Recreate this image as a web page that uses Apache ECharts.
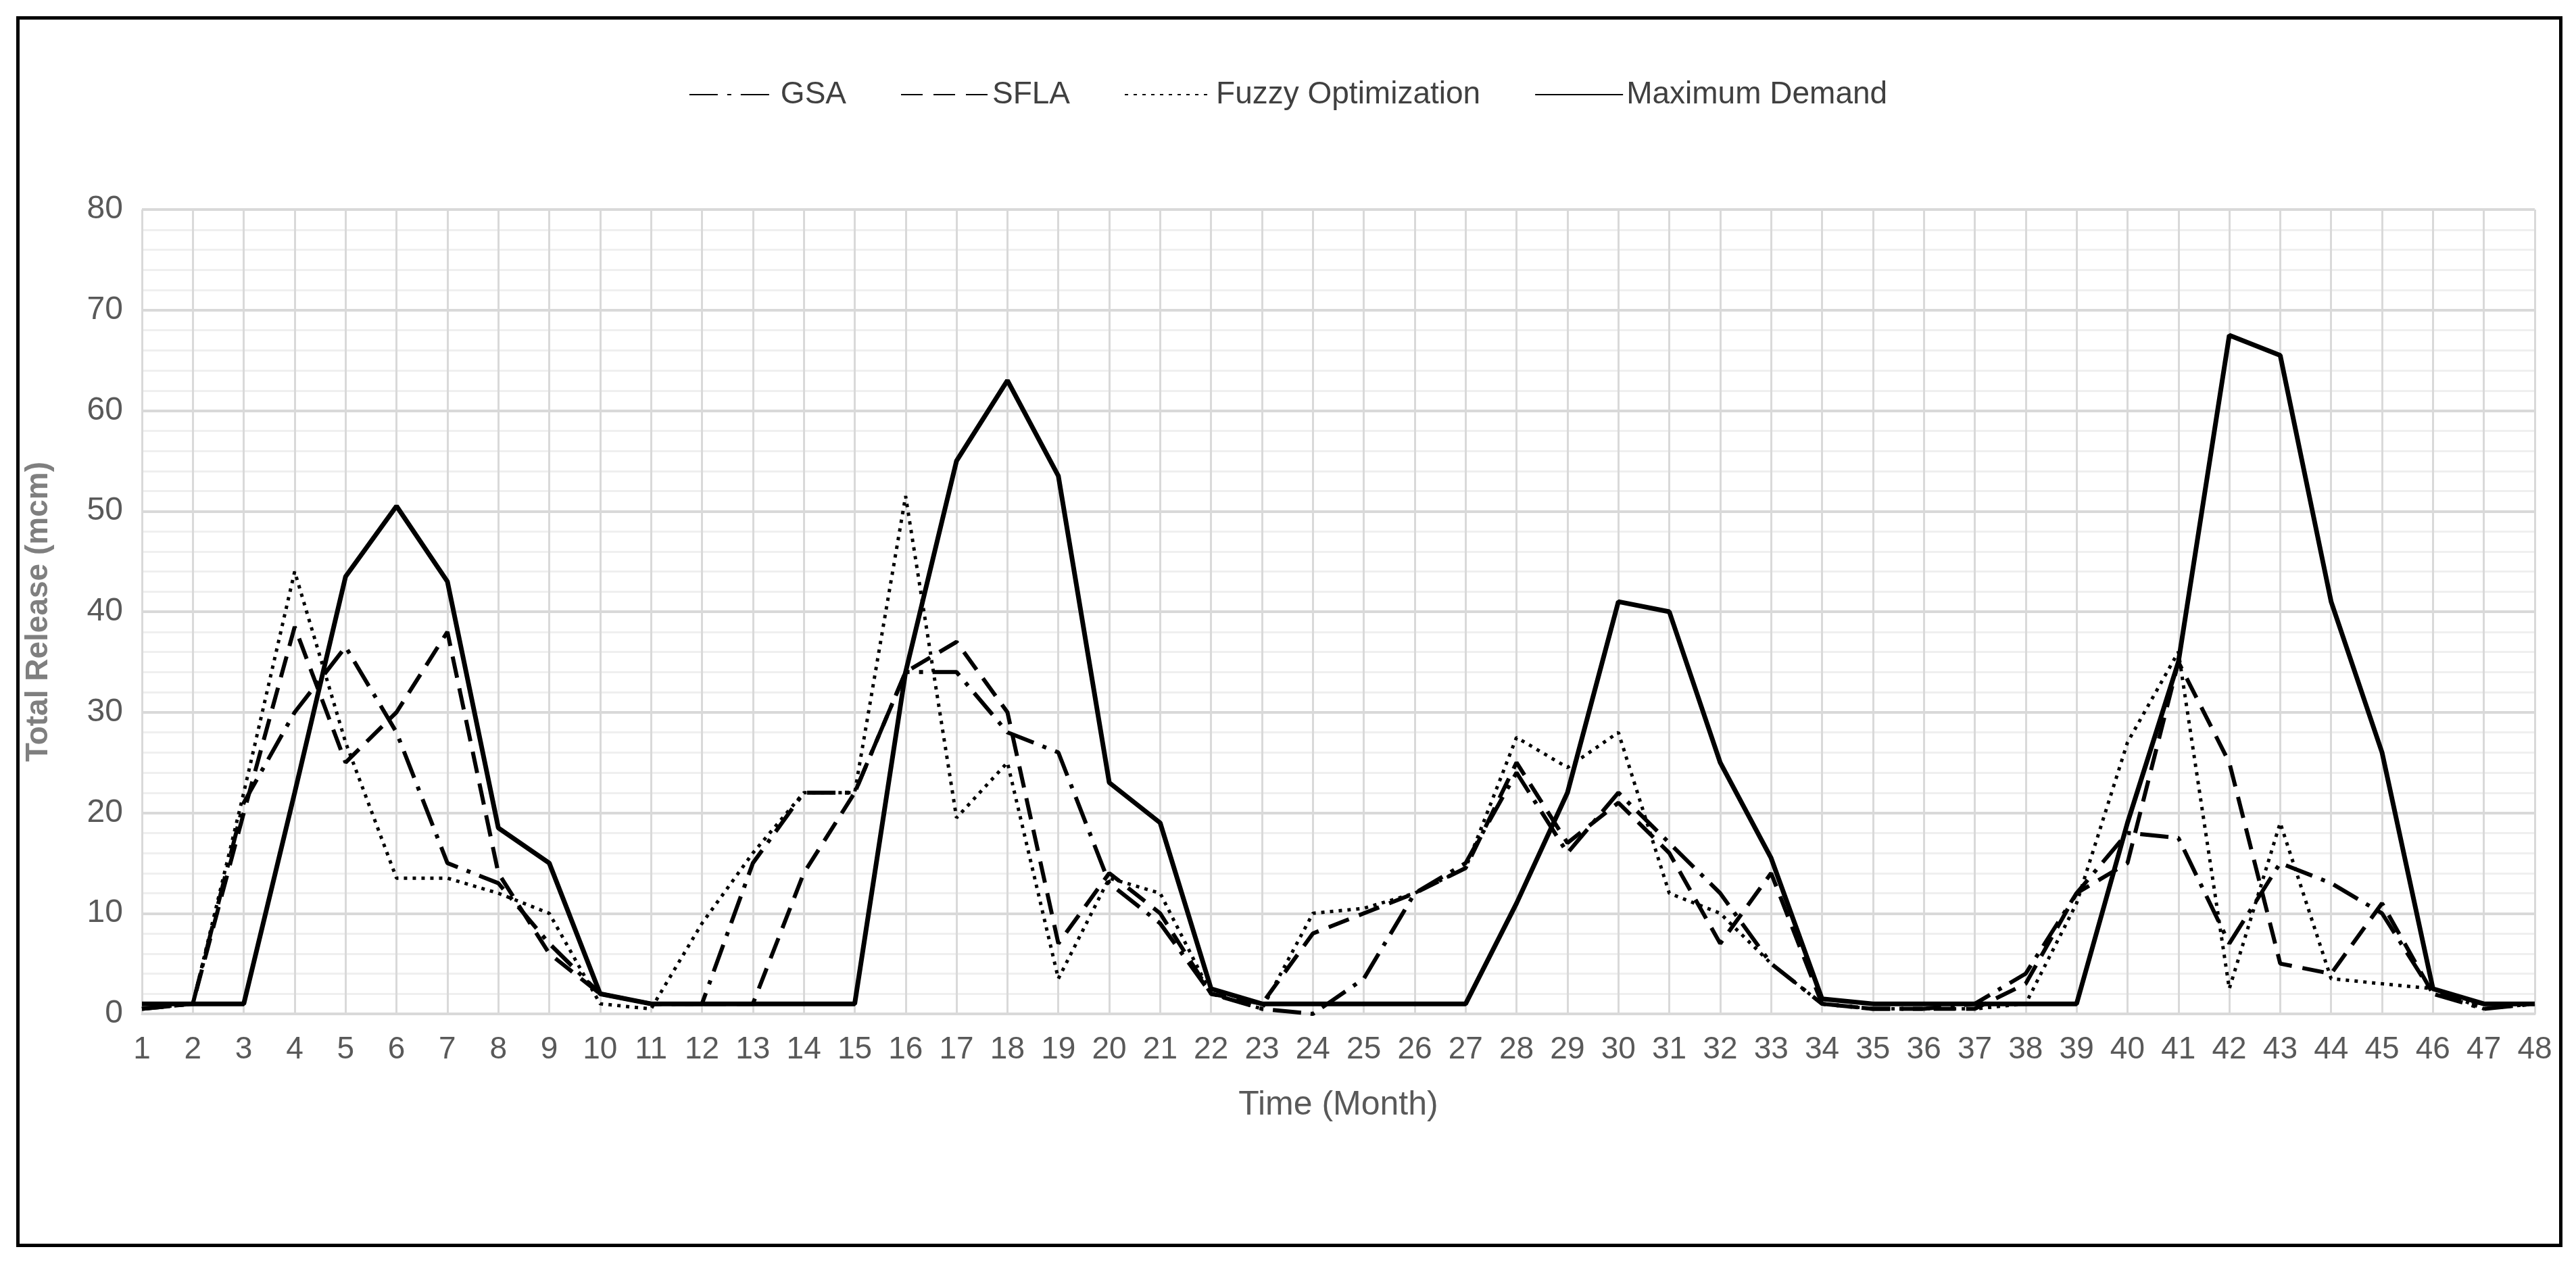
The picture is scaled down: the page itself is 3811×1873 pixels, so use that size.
<!DOCTYPE html>
<html>
<head>
<meta charset="utf-8">
<script src="https://cdn.jsdelivr.net/npm/echarts@6/dist/echarts.min.js"></script>
<style>
html,body{margin:0;padding:0;background:#fff;}
#frame{position:absolute;left:24px;top:24px;width:3757px;height:1811px;border:5px solid #000;}
#chart{width:3811px;height:1873px;}
</style>
</head>
<body>
<div id="frame"></div>
<div id="chart"></div>
<script>
var months = [];
for (var i = 1; i <= 48; i++) months.push(String(i));

var gsa = [0.5,1,21,30,36.5,28,15,13,7,2,1,1,15,22,22,34,34,28,26,13,9,2,0.5,0,3.5,12,15,24,16,22,17,12,5,1,0.5,0.5,1,4,12,18,17.5,7,15,13,10,2,0.5,1];
var sfla = [0.5,1,20,38.5,25,30,38,14,6,2,1,1,1,14,22,34,37,30,7,14,10,2,1,8,10,12,14.5,25,17,21,16,7,14,1,0.5,0.5,0.5,3,12,15,35,25,5,4,11,2,1,1];
var fuzzy = [0.5,1,22,44,27,13.5,13.5,12,10,1,0.5,9,16,22,22,51.5,19.5,25,3.5,13.5,12,2,0.5,10,10.5,12,14.5,27.5,24.5,28,12,10,5,1,0.5,0.5,0.5,1,11,27,36,2.5,19,3.5,3,2.5,0.5,1];
var maxDemand = [1,1,1,22,43.5,50.5,43,18.5,15,2,1,1,1,1,1,34,55,63,53.5,23,19,2.5,1,1,1,1,1,11,22,41,40,25,15.5,1.5,1,1,1,1,1,19,35,67.5,65.5,41,26,2.5,1,1];

var myChart = echarts.init(document.getElementById('chart'));
function line(name, data, type, width) {
    return {
        name: name, type: 'line', data: data, symbol: 'none',
        lineStyle: {color: '#000', width: width, type: type},
        itemStyle: {color: '#000'}
    };
}
myChart.setOption({
    backgroundColor: 'transparent',
    animation: false,
    legend: {
        top: 112, left: 'center', itemWidth: 130, itemHeight: 20, itemGap: 80,
        itemStyle: {opacity: 0},
        textStyle: {fontFamily: 'Liberation Sans', fontSize: 46, color: '#404040'},
        data: ['GSA', 'SFLA', 'Fuzzy Optimization', 'Maximum Demand']
    },
    grid: {left: 210, right: 61, top: 310, bottom: 373},
    xAxis: {
        type: 'category', data: months, boundaryGap: false,
        name: 'Time (Month)', nameLocation: 'middle', nameGap: 110,
        nameTextStyle: {fontFamily: 'Liberation Sans', fontSize: 50, color: '#595959'},
        axisLine: {lineStyle: {color: '#d9d9d9', width: 3}},
        axisTick: {show: false},
        axisLabel: {fontFamily: 'Liberation Sans', fontSize: 46, color: '#595959', margin: 30, interval: 0},
        splitLine: {show: true, interval: 0, lineStyle: {color: '#d9d9d9', width: 3}}
    },
    yAxis: {
        type: 'value', min: 0, max: 80, interval: 10,
        name: 'Total Release (mcm)', nameLocation: 'middle', nameGap: 130,
        nameTextStyle: {fontFamily: 'Liberation Sans', fontWeight: 'bold', fontSize: 46, color: '#7f7f7f'},
        axisLine: {show: false}, axisTick: {show: false},
        axisLabel: {fontFamily: 'Liberation Sans', fontSize: 48, color: '#595959', margin: 28},
        splitLine: {lineStyle: {color: '#d9d9d9', width: 4}},
        minorTick: {show: false, splitNumber: 5},
        minorSplitLine: {show: true, lineStyle: {color: '#efefef', width: 3}}
    },
    series: [
        line('GSA', gsa, [42, 14, 6, 14], 6),
        line('SFLA', sfla, [32, 16], 6),
        line('Fuzzy Optimization', fuzzy, [5, 8], 5),
        line('Maximum Demand', maxDemand, 'solid', 7)
    ]
});
</script>
</body>
</html>
